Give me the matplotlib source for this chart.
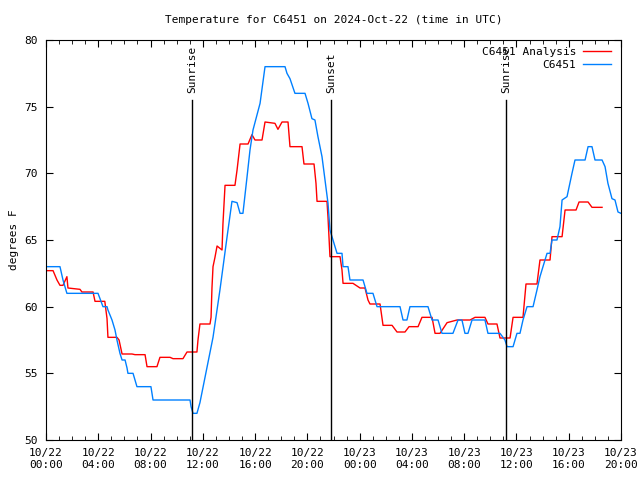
import numpy as np
import matplotlib
matplotlib.use("Agg")
from matplotlib import pyplot as plt

# time in hours since 2024-10-22 00:00 UTC
analysis_t = [0, 0.54, 0.84, 1.07, 1.3, 1.6, 1.68, 2.6, 2.75, 3.6, 3.75, 4.5, 4.67, 4.74,
              5.43, 5.59, 5.82, 6.58, 6.81, 7.58, 7.73, 8.49, 8.72, 9.49, 9.72, 10.48,
              10.79, 11.55, 11.63, 11.78, 12.55, 12.63, 12.7, 12.78, 12.93, 13.09, 13.47,
              13.54, 13.7, 14.46, 14.62, 14.85, 15.46, 15.76, 15.99, 16.53, 16.76, 17.52,
              17.75, 18.06, 18.52, 18.67, 19.59, 19.74, 20.51, 20.66, 20.74, 21.5, 21.58,
              21.73, 22.5, 22.65, 22.73, 23.49, 24.03, 24.41, 24.64, 24.79, 25.56, 25.79,
              26.48, 26.86, 27.47, 27.78, 28.47, 28.77, 29.54, 29.77, 30.15, 30.69, 31.45,
              32.45, 32.83, 33.59, 33.82, 34.51, 34.74, 35.51, 35.74, 36.5, 36.73, 37.57,
              37.8, 38.57, 38.72, 39.49, 39.72, 40.56, 40.79, 41.48, 41.78, 42.55]
analysis_temp = [62.7, 62.7, 62, 61.6, 61.6, 62.25, 61.4, 61.3, 61.1, 61.1, 60.4, 60.4, 59.1, 57.7,
                 57.7, 57.5, 56.45, 56.45, 56.4, 56.4, 55.5, 55.5, 56.2, 56.2, 56.1, 56.1,
                 56.6, 56.6, 57.5, 58.7, 58.7, 59.2, 61.4, 63, 63.7, 64.55, 64.25,
                 66.2, 69.1, 69.1, 70.25, 72.2, 72.2, 72.9, 72.5, 72.5, 73.85, 73.75,
                 73.3, 73.85, 73.85, 72, 72, 70.7, 70.7, 69.25, 67.9, 67.9, 66.7,
                 63.75, 63.75, 62.75, 61.75, 61.75, 61.4, 61.4, 60.5, 60.2, 60.2, 58.6,
                 58.6, 58.1, 58.1, 58.5, 58.5, 59.2, 59.2, 58, 58, 58.8, 59,
                 59, 59.2, 59.2, 58.7, 58.7, 57.65, 57.65, 59.2, 59.2, 61.7, 61.7,
                 63.5, 63.5, 65.25, 65.25, 67.25, 67.25, 67.85, 67.85, 67.45, 67.45]

obs_t = [0, 1.07, 1.3, 1.6, 3.98, 4.36, 4.67, 4.74, 5.05, 5.28, 5.43, 5.66, 5.82, 6.05, 6.2,
         6.27, 6.66, 6.96, 8.03, 8.19, 11.02, 11.1, 11.25, 11.55, 11.78, 12.78, 13.31, 13.85,
         14.23, 14.62, 14.85, 15.07, 15.38, 15.61, 15.84, 16.38, 16.76, 18.29, 18.44, 18.67,
         19.05, 19.82, 20.05, 20.35, 20.58, 20.81, 21.12, 21.35, 21.58, 21.73, 22.27, 22.65,
         22.73, 23.11, 23.26, 24.26, 24.56, 25.02, 25.33, 27.09, 27.32, 27.62, 27.85, 29.23,
         29.54, 30.0, 30.3, 31.14, 31.53, 31.83, 32.06, 32.29, 32.6, 33.59, 33.82, 34.74,
         35.12, 35.28, 35.74, 36.04, 36.27, 36.5, 36.81, 37.27, 37.57, 37.8, 38.03, 38.34,
         38.57, 38.72, 39.1, 39.33, 39.49, 39.87, 40.25, 40.48, 41.25, 41.48, 41.78, 42.01,
         42.55, 42.78, 43.0, 43.31, 43.54, 43.77, 44.0]
obs_temp = [63, 63, 62, 61, 61, 60, 60, 59.75, 59, 58.25, 57.5, 56.5, 56, 56, 55.4,
            55, 55, 54, 54, 53, 53, 52.5, 52, 52, 52.8, 57.7, 61.25, 65.2,
            67.9, 67.8, 67, 67, 69.7, 71.75, 73.25, 75.25, 78, 78, 77.5, 77.1,
            76, 76, 75.25, 74.1, 74, 72.75, 71.25, 69.5, 67.75, 65.75, 64, 64,
            63, 63, 62, 62, 61, 61, 60, 60, 59, 59, 60, 60,
            59, 59, 58, 58, 59, 59, 58, 58, 59, 59, 58, 58,
            57.5, 57, 57, 58, 58, 59, 60, 60, 61.25, 62.25, 63, 64,
            64, 65, 65, 66, 68, 68.25, 70, 71, 71, 72, 72, 71,
            71, 70.5, 69.25, 68.1, 68, 67.1, 67]

sun_t = [11.17, 21.8, 35.2]
sun_labels = ["Sunrise", "Sunset", "Sunrise"]

tick_hours = [0, 4, 8, 12, 16, 20, 24, 28, 32, 36, 40, 44]
tick_labels = ["10/22\n00:00", "10/22\n04:00", "10/22\n08:00", "10/22\n12:00",
               "10/22\n16:00", "10/22\n20:00", "10/23\n00:00", "10/23\n04:00",
               "10/23\n08:00", "10/23\n12:00", "10/23\n16:00", "10/23\n20:00"]

plt.rcParams['font.family'] = 'DejaVu Sans Mono'
plt.rcParams['font.size'] = 8

fig = plt.figure(figsize=(6.4, 4.8), dpi=100)
ax = fig.add_axes([46/640, 40/480, 575/640, 400/480])

ax.plot(analysis_t, analysis_temp, color='#ff0000', lw=1.0, label='C6451 Analysis')
ax.plot(obs_t, obs_temp, color='#0080ff', lw=1.0, label='C6451')

for t, lab in zip(sun_t, sun_labels):
	ax.plot([t, t], [50, 75.5], color='black', lw=1.0)
	ax.text(t, 76.0, lab, rotation=90, ha='center', va='bottom', fontsize=8)

ax.set_xlim(0, 44)
ax.set_ylim(50, 80)
ax.set_xticks(tick_hours)
ax.set_xticklabels(tick_labels)
ax.set_xticks(np.arange(0, 45, 1), minor=True)
ax.set_yticks([50, 55, 60, 65, 70, 75, 80])
ax.tick_params(which='both', direction='in', top=True, right=True)
ax.tick_params(which='major', length=5, pad=6)
ax.tick_params(which='minor', length=3)
ax.set_ylabel('degrees F')
ax.set_title('Temperature for C6451 on 2024-Oct-22 (time in UTC)', fontsize=8, pad=12)

leg = ax.legend(loc='upper right', frameon=False, markerfirst=False, handlelength=2.5,
                borderaxespad=0.2, labelspacing=0.3, handletextpad=0.6,
                bbox_to_anchor=(0.994, 1.0))
for t in leg.get_texts():
	t.set_ha('right')

fig.savefig('out.png', dpi=100)
